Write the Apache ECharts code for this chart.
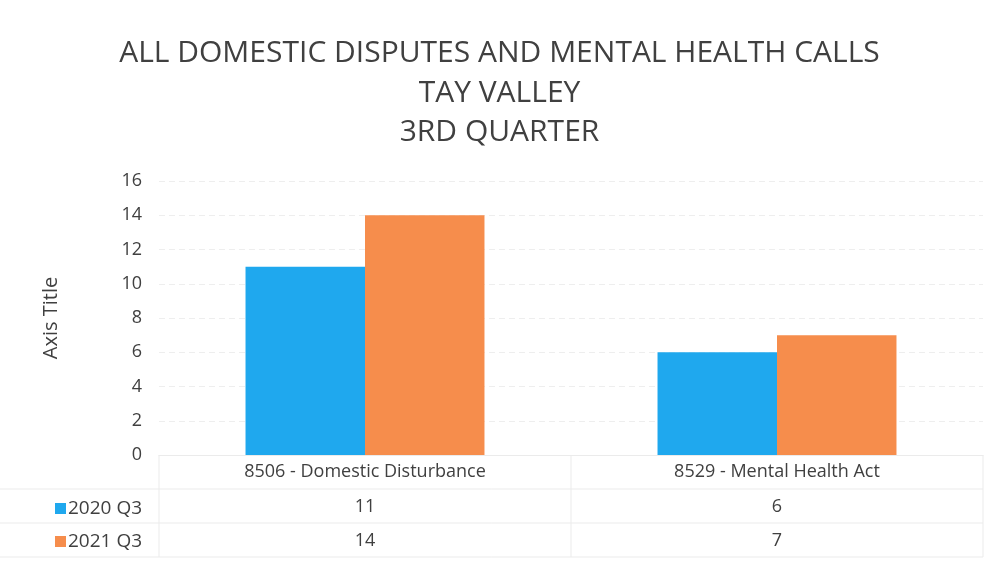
<!DOCTYPE html>
<html>
<head>
<meta charset="utf-8">
<script src="https://cdn.jsdelivr.net/npm/echarts@6/dist/echarts.min.js"></script>
<style>
  html, body { margin: 0; padding: 0; background: #fff; }
  #chart { width: 999px; height: 564px; }
</style>
</head>
<body>
<div id="chart"></div>
<script>
// data
const categories = ['8506 - Domestic Disturbance', '8529 - Mental Health Act'];
const seriesNames = ['2020 Q3', '2021 Q3'];
const values2020 = [11, 6];
const values2021 = [14, 7];

const chart = echarts.init(document.getElementById('chart'));
const font = 'Open Sans';
const textColor = '#404040';
const lineColor = '#ebebeb';

const tableLine = (x1, y1, x2, y2) => ({
  type: 'line',
  shape: { x1, y1, x2, y2 },
  style: { stroke: lineColor, lineWidth: 1 },
  silent: true
});

const option = {
  animation: false,
  backgroundColor: '#fff',
  title: {
    text: 'ALL DOMESTIC DISPUTES AND MENTAL HEALTH CALLS\nTAY VALLEY\n3RD QUARTER',
    left: 'center',
    top: 29,
    textStyle: {
      fontFamily: font,
      fontWeight: 'normal',
      fontSize: 30,
      lineHeight: 39.5,
      color: textColor
    }
  },
  legend: {
    orient: 'vertical',
    left: 50,
    top: 494,
    itemWidth: 11,
    itemHeight: 11,
    itemGap: 14,
    icon: 'rect',
    data: seriesNames,
    textStyle: { fontFamily: font, fontSize: 19, color: textColor, padding: [0, 0, 0, -3] }
  },
  grid: { left: 159, right: 16, top: 181, bottom: 109 },
  xAxis: [
    {
      type: 'category',
      data: categories,
      axisLine: { show: true, lineStyle: { color: lineColor } },
      axisTick: { show: false },
      axisLabel: { fontFamily: font, fontSize: 18, color: textColor, margin: 8 }
    },
    {
      type: 'category',
      data: categories,
      position: 'bottom',
      offset: 35,
      axisLine: { show: false },
      axisTick: { show: false },
      axisLabel: {
        fontFamily: font, fontSize: 18, color: textColor, margin: 8,
        formatter: (v, i) => String(values2020[i])
      }
    },
    {
      type: 'category',
      data: categories,
      position: 'bottom',
      offset: 69,
      axisLine: { show: false },
      axisTick: { show: false },
      axisLabel: {
        fontFamily: font, fontSize: 18, color: textColor, margin: 8,
        formatter: (v, i) => String(values2021[i])
      }
    }
  ],
  yAxis: {
    type: 'value',
    min: 0,
    max: 16,
    interval: 2,
    name: 'Axis Title',
    nameLocation: 'middle',
    nameGap: 98,
    nameRotate: 90,
    nameTextStyle: { fontFamily: font, fontSize: 20, color: textColor },
    axisLine: { show: false },
    axisTick: { show: false },
    axisLabel: { fontFamily: font, fontSize: 18, color: textColor, margin: 17 },
    splitLine: { lineStyle: { color: '#eeeeee', type: [6, 4] } }
  },
  series: [
    {
      name: seriesNames[0],
      type: 'bar',
      data: values2020,
      barGap: '0%',
      barCategoryGap: '42%',
      itemStyle: { color: '#1fa8ee' }
    },
    {
      name: seriesNames[1],
      type: 'bar',
      data: values2021,
      itemStyle: { color: '#f68d4c' }
    }
  ],
  graphic: [
    tableLine(0, 489, 983, 489),
    tableLine(0, 523, 983, 523),
    tableLine(0, 557, 983, 557),
    tableLine(159, 455, 159, 557),
    tableLine(571, 455, 571, 557),
    tableLine(983, 455, 983, 557)
  ]
};

chart.setOption(option);
</script>
</body>
</html>
